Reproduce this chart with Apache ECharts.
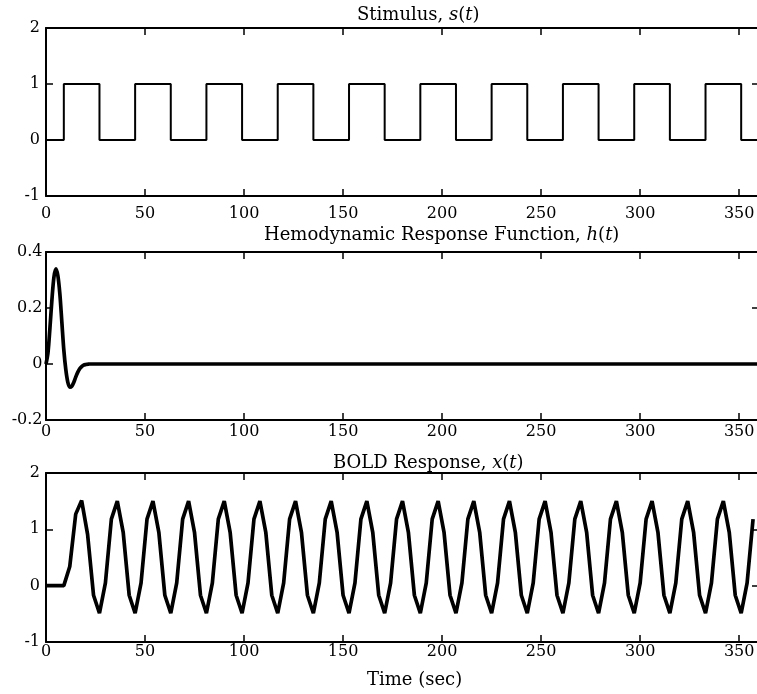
<!DOCTYPE html>
<html>
<head>
<meta charset="utf-8">
<script src="https://cdn.jsdelivr.net/npm/echarts@6/dist/echarts.min.js"></script>
<style>
html,body{margin:0;padding:0;background:#fff;overflow:hidden;width:757px;height:694px;}
#chart{width:770px;height:694px;}
</style>
</head>
<body>
<div id="chart"></div>
<script>
// ---- data ----
const stimTime  = [0, 9, 27, 45, 63, 81, 99, 117, 135, 153, 171, 189, 207, 225, 243, 261, 279, 297, 315, 333, 351, 360];
const stimValue = [0, 1, 0, 1, 0, 1, 0, 1, 0, 1, 0, 1, 0, 1, 0, 1, 0, 1, 0, 1, 0, 0];

const hrfTime  = [0, 1, 2, 3, 4, 5, 6, 7, 8, 9, 10, 11, 12, 13, 14, 15, 16, 17, 18, 19, 20, 21, 22, 25, 360];
const hrfValue = [0, 0.04, 0.13, 0.23, 0.31, 0.34, 0.315, 0.25, 0.15, 0.05, -0.02, -0.065, -0.083, -0.08, -0.066, -0.047, -0.03, -0.017, -0.009, -0.004, -0.002, -0.001, 0, 0, 0];

const boldTime = [0, 3, 6, 9, 12, 15, 18, 21, 24, 27, 30, 33, 36, 39, 42, 45, 48, 51, 54, 57, 60, 63, 66, 69, 72, 75, 78, 81, 84, 87, 90, 93, 96, 99, 102, 105, 108, 111, 114, 117, 120, 123, 126, 129, 132, 135, 138, 141, 144, 147, 150, 153, 156, 159, 162, 165, 168, 171, 174, 177, 180, 183, 186, 189, 192, 195, 198, 201, 204, 207, 210, 213, 216, 219, 222, 225, 228, 231, 234, 237, 240, 243, 246, 249, 252, 255, 258, 261, 264, 267, 270, 273, 276, 279, 282, 285, 288, 291, 294, 297, 300, 303, 306, 309, 312, 315, 318, 321, 324, 327, 330, 333, 336, 339, 342, 345, 348, 351, 354, 357];
const boldValue = [0, 0, 0, 0, 0.34, 1.27, 1.51, 0.91, -0.17,
  -0.49, 0.05, 1.18, 1.50, 0.94, -0.17,
  -0.49, 0.05, 1.18, 1.50, 0.94, -0.17,
  -0.49, 0.05, 1.18, 1.50, 0.94, -0.17,
  -0.49, 0.05, 1.18, 1.50, 0.94, -0.17,
  -0.49, 0.05, 1.18, 1.50, 0.94, -0.17,
  -0.49, 0.05, 1.18, 1.50, 0.94, -0.17,
  -0.49, 0.05, 1.18, 1.50, 0.94, -0.17,
  -0.49, 0.05, 1.18, 1.50, 0.94, -0.17,
  -0.49, 0.05, 1.18, 1.50, 0.94, -0.17,
  -0.49, 0.05, 1.18, 1.50, 0.94, -0.17,
  -0.49, 0.05, 1.18, 1.50, 0.94, -0.17,
  -0.49, 0.05, 1.18, 1.50, 0.94, -0.17,
  -0.49, 0.05, 1.18, 1.50, 0.94, -0.17,
  -0.49, 0.05, 1.18, 1.50, 0.94, -0.17,
  -0.49, 0.05, 1.18, 1.50, 0.94, -0.17,
  -0.49, 0.05, 1.18, 1.50, 0.94, -0.17,
  -0.49, 0.05, 1.18, 1.50, 0.94, -0.17,
  -0.49, 0.05, 1.18, 1.50, 0.94, -0.17,
  -0.49, 0.05, 1.18];

const xTicks = {min: 0, max: 360, interval: 50};
const yTicksStim = {min: -1, max: 2, interval: 1};
const yTicksHrf  = {min: -0.2, max: 0.4, interval: 0.2};
const yTicksBold = {min: -1, max: 2, interval: 1};

const titles = [
  {pre: 'Stimulus, ', v: 's'},
  {pre: 'Hemodynamic Response Function, ', v: 'h'},
  {pre: 'BOLD Response, ', v: 'x'}
];
const xLabel = 'Time (sec)';

// ---- layout ----
const FONT = '"DejaVu Serif", serif';
const grids = [
  {left: 46, width: 713, top: 28, height: 168},
  {left: 46, width: 713, top: 252, height: 168},
  {left: 46, width: 713, top: 473, height: 169}
];
const xLabelMargins = [10, 4, 2];
const yMargins = [6, 3.5, 6];
const yCfg = [yTicksStim, yTicksHrf, yTicksBold];

const axisLine = {show: true, onZero: false, lineStyle: {color: '#000', width: 2}};
const tickIn = {show: true, inside: true, length: 7, lineStyle: {color: '#000', width: 1.5}};
const lbl = {color: '#000', fontFamily: FONT, fontSize: 16};

const xAxes = [], yAxes = [];
grids.forEach((g, i) => {
  xAxes.push({type: 'value', gridIndex: i, position: 'bottom', min: xTicks.min, max: xTicks.max, interval: xTicks.interval,
    axisLine, axisTick: tickIn, splitLine: {show: false},
    axisLabel: Object.assign({}, lbl, {margin: xLabelMargins[i], showMaxLabel: false})});
  xAxes.push({type: 'value', gridIndex: i, position: 'top', min: xTicks.min, max: xTicks.max, interval: xTicks.interval,
    axisLine, axisTick: tickIn, splitLine: {show: false}, axisLabel: {show: false}});
  const yc = yCfg[i];
  yAxes.push({type: 'value', gridIndex: i, position: 'left', min: yc.min, max: yc.max, interval: yc.interval,
    axisLine, axisTick: tickIn, splitLine: {show: false},
    axisLabel: Object.assign({}, lbl, {margin: yMargins[i], formatter: v => String(Math.round(v * 10) / 10)})});
  yAxes.push({type: 'value', gridIndex: i, position: 'right', min: yc.min, max: yc.max, interval: yc.interval,
    axisLine, axisTick: tickIn, splitLine: {show: false}, axisLabel: {show: false}});
});

const pair = (a, b) => a.map((t, k) => [t, b[k]]);

const series = [
  {type: 'line', xAxisIndex: 0, yAxisIndex: 0, data: pair(stimTime, stimValue), step: 'end',
    showSymbol: false, lineStyle: {color: '#000', width: 2}},
  {type: 'line', xAxisIndex: 2, yAxisIndex: 2, data: pair(hrfTime, hrfValue), smooth: 0.3,
    showSymbol: false, lineStyle: {color: '#000', width: 3.7}},
  {type: 'line', xAxisIndex: 4, yAxisIndex: 4, data: pair(boldTime, boldValue),
    showSymbol: false, lineStyle: {color: '#000', width: 3.7}}
];

const rich = {
  a: {fontFamily: FONT, fontSize: 18, fill: '#000', color: '#000'},
  i: {fontFamily: FONT, fontSize: 18, fontStyle: 'italic', fill: '#000', color: '#000'}
};
const titleX = [357, 264, 333];
const titleY = [15.5, 235.5, 463];
const graphic = titles.map((t, i) => ({
  type: 'text', x: titleX[i], y: titleY[i],
  style: {text: '{a|' + t.pre + '}{i|' + t.v + '}{a|(}{i|t}{a|)}', rich,
    align: 'left', verticalAlign: 'middle', fontFamily: FONT, fontSize: 18, fill: '#000'}
}));
graphic.push({type: 'text', x: 367, y: 680,
  style: {text: xLabel, align: 'left', verticalAlign: 'middle', fontFamily: FONT, fontSize: 18, fill: '#000'}});

const chart = echarts.init(document.getElementById('chart'), null, {renderer: 'canvas'});
chart.setOption({
  animation: false,
  backgroundColor: '#fff',
  grid: grids.map(g => Object.assign({containLabel: false}, g)),
  xAxis: xAxes,
  yAxis: yAxes,
  series,
  graphic
});
</script>
</body>
</html>
